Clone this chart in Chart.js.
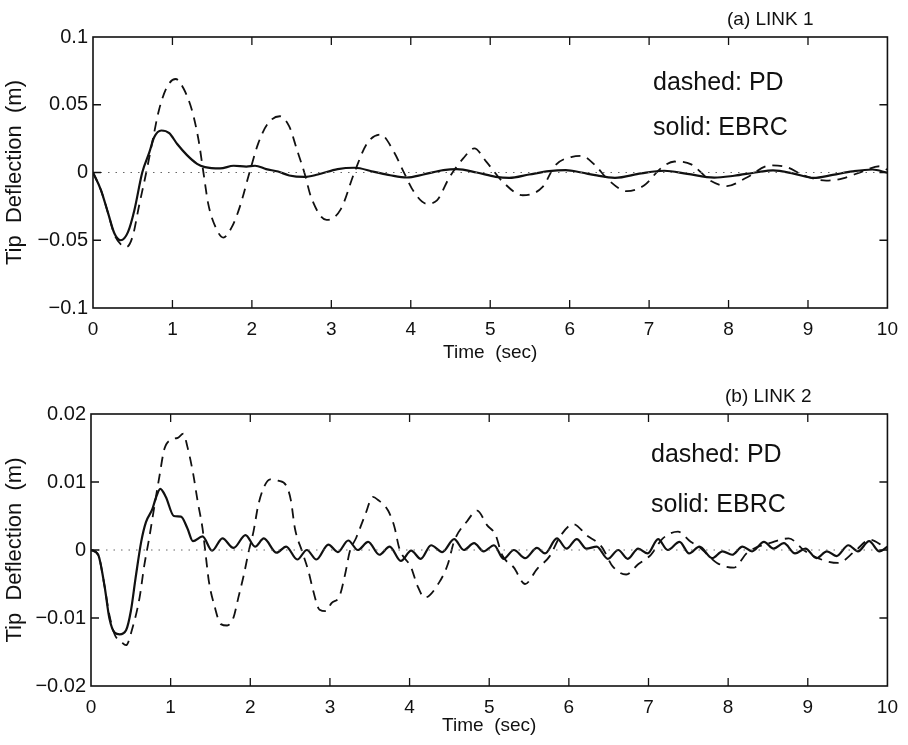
<!DOCTYPE html>
<html>
<head>
<meta charset="utf-8">
<script src="https://cdn.jsdelivr.net/npm/chart.js@4.4.1/dist/chart.umd.min.js"></script>
<style>
  html, body { margin: 0; padding: 0; background: #fff; }
  #page { position: relative; width: 908px; height: 745px; }
  .box { position: absolute; left: 0; width: 908px; }
</style>
</head>
<body>
<div id="page">
  <div class="box" style="top:0;height:372px"><canvas id="link1"></canvas></div>
  <div class="box" style="top:372px;height:373px"><canvas id="link2"></canvas></div>
</div>
<script>
// tick labels
const xTicks = [0, 1, 2, 3, 4, 5, 6, 7, 8, 9, 10];
const yTicks1 = [-0.1, -0.05, 0, 0.05, 0.1];
const yTicks2 = [-0.02, -0.01, 0, 0.01, 0.02];

// (a) LINK 1 - solid: EBRC
const link1EbrcT = [0, 0.1, 0.19, 0.27, 0.35, 0.44, 0.52, 0.62, 0.71, 0.77, 0.86, 0.96, 1.06, 1.18, 1.31, 1.41, 1.6, 1.77, 1.93, 2.04, 2.18, 2.33, 2.47, 2.66, 2.83, 3.08, 3.29, 3.54, 3.74, 3.95, 4.16, 4.41, 4.58, 4.83, 5.07, 5.24, 5.49, 5.74, 5.95, 6.15, 6.32, 6.57, 6.9, 7.19, 7.48, 7.82, 8.07, 8.36, 8.56, 8.82, 9.07, 9.31, 9.56, 9.81, 10];
const link1EbrcY = [0, -0.013, -0.03, -0.045, -0.05, -0.044, -0.028, 0, 0.015, 0.026, 0.031, 0.029, 0.021, 0.013, 0.0064, 0.004, 0.003, 0.005, 0.0044, 0.005, 0.0025, 0.0007, -0.0022, -0.0033, -0.0015, 0.0025, 0.0035, 0.0005, -0.002, -0.0037, -0.0015, 0.0017, 0.0025, 0, -0.0032, -0.004, -0.0015, 0.001, 0.0017, 0, -0.002, -0.0039, -0.0006, 0.0013, -0.001, -0.0038, -0.0024, 0.0002, 0.0015, -0.0008, -0.004, -0.0018, 0.0008, 0.0022, -0.0002];

// (a) LINK 1 - dashed: PD
const link1PdT = [0, 0.1, 0.19, 0.27, 0.35, 0.42, 0.5, 0.58, 0.67, 0.75, 0.83, 0.93, 1.04, 1.14, 1.25, 1.33, 1.39, 1.45, 1.54, 1.64, 1.75, 1.85, 1.97, 2.08, 2.2, 2.35, 2.47, 2.57, 2.66, 2.75, 2.94, 3.12, 3.29, 3.45, 3.62, 3.79, 3.91, 4.04, 4.2, 4.33, 4.49, 4.66, 4.8, 4.95, 5.16, 5.41, 5.66, 5.82, 6.03, 6.15, 6.32, 6.49, 6.72, 6.94, 7.15, 7.32, 7.53, 7.78, 7.98, 8.23, 8.52, 8.73, 8.94, 9.23, 9.44, 9.69, 9.9, 10];
const link1PdY = [0, -0.013, -0.03, -0.046, -0.053, -0.055, -0.047, -0.0245, 0, 0.0235, 0.046, 0.063, 0.069, 0.062, 0.045, 0.0235, 0, -0.023, -0.04, -0.048, -0.04, -0.025, 0, 0.0215, 0.036, 0.0415, 0.034, 0.0163, 0, -0.019, -0.035, -0.027, 0, 0.0215, 0.028, 0.015, 0.0005, -0.0143, -0.023, -0.0205, -0.0032, 0.0104, 0.0178, 0.008, -0.007, -0.0168, -0.0106, 0.0054, 0.0116, 0.0123, 0.0054, -0.0057, -0.0138, -0.0094, 0.0032, 0.0081, 0.006, -0.0063, -0.01, -0.0037, 0.0052, 0.004, -0.002, -0.006, -0.0043, 0.0009, 0.0046, 0.002];

// (b) LINK 2 - solid: EBRC
const link2EbrcT = [0, 0.09, 0.17, 0.23, 0.3, 0.36, 0.44, 0.5, 0.56, 0.63, 0.69, 0.77, 0.81, 0.87, 0.94, 1.04, 1.13, 1.21, 1.28, 1.4, 1.52, 1.65, 1.79, 1.94, 2.06, 2.17, 2.33, 2.45, 2.59, 2.71, 2.83, 2.98, 3.1, 3.23, 3.35, 3.48, 3.62, 3.75, 3.89, 4.02, 4.14, 4.27, 4.41, 4.56, 4.68, 4.81, 4.93, 5.06, 5.18, 5.31, 5.45, 5.6, 5.7, 5.85, 5.97, 6.1, 6.22, 6.35, 6.49, 6.62, 6.74, 6.87, 6.99, 7.12, 7.24, 7.39, 7.51, 7.64, 7.8, 7.93, 8.05, 8.18, 8.3, 8.45, 8.57, 8.7, 8.84, 8.97, 9.11, 9.24, 9.36, 9.51, 9.63, 9.77, 9.9, 10];
const link2EbrcY = [0, -0.0007, -0.0053, -0.01, -0.0122, -0.0124, -0.0118, -0.009, -0.0041, 0.0012, 0.0041, 0.006, 0.0075, 0.009, 0.0078, 0.005, 0.0049, 0.0032, 0.0013, 0.002, -0.0001, 0.0017, 0.0003, 0.0022, 0.0005, 0.0017, -0.0004, 0.0005, -0.0014, 0, -0.0014, 0.0008, -0.0003, 0.0014, 0, 0.0012, -0.0007, 0.0005, -0.0016, -0.0001, -0.0013, 0.0007, -0.0003, 0.0016, 0, 0.001, -0.0002, 0.0007, -0.0013, 0, -0.0012, 0.0003, -0.0005, 0.0017, 0.0002, 0.0016, 0.0002, 0.0005, -0.0013, 0, -0.0013, 0.0002, -0.0005, 0.0016, 0, 0.0012, -0.0005, 0.0005, -0.0012, -0.0002, -0.0007, 0.0005, -0.0002, 0.0012, 0.0002, 0.001, -0.0005, 0.0002, -0.0012, -0.0002, -0.0009, 0.0007, -0.0002, 0.0013, -0.0002, 0.0005];

// (b) LINK 2 - dashed: PD
const link2PdT = [0, 0.09, 0.17, 0.23, 0.3, 0.38, 0.44, 0.52, 0.61, 0.67, 0.73, 0.79, 0.86, 0.92, 1.0, 1.09, 1.16, 1.21, 1.28, 1.34, 1.4, 1.44, 1.48, 1.55, 1.63, 1.71, 1.79, 1.85, 1.92, 1.98, 2.04, 2.1, 2.17, 2.25, 2.35, 2.45, 2.51, 2.56, 2.65, 2.73, 2.79, 2.87, 2.95, 3.02, 3.12, 3.19, 3.25, 3.33, 3.44, 3.54, 3.6, 3.73, 3.81, 3.87, 4.02, 4.1, 4.19, 4.37, 4.48, 4.56, 4.72, 4.85, 4.97, 5.08, 5.16, 5.31, 5.45, 5.6, 5.76, 5.89, 6.06, 6.22, 6.41, 6.55, 6.72, 6.87, 7.03, 7.18, 7.37, 7.53, 7.63, 7.86, 8.07, 8.24, 8.57, 8.76, 8.97, 9.17, 9.38, 9.59, 9.78, 9.96, 10];
const link2PdY = [0, -0.0007, -0.0053, -0.0095, -0.0125, -0.0135, -0.014, -0.0115, -0.007, -0.0022, 0.0017, 0.006, 0.0109, 0.0148, 0.0162, 0.0165, 0.0171, 0.0152, 0.0114, 0.0071, 0.0032, -0.0007, -0.0046, -0.0082, -0.0109, -0.0111, -0.0099, -0.007, -0.0036, -0.0002, 0.0027, 0.0066, 0.0092, 0.0104, 0.0102, 0.0095, 0.0073, 0.0032, -0.0002, -0.0031, -0.006, -0.0088, -0.009, -0.0078, -0.0068, -0.0036, -0.0002, 0.0018, 0.0051, 0.0078, 0.0074, 0.0058, 0.0034, 0.0003, -0.0026, -0.0053, -0.007, -0.0048, -0.0021, 0.0013, 0.0042, 0.0058, 0.0037, 0.0022, -0.0007, -0.0026, -0.005, -0.0028, -0.0009, 0.002, 0.0038, 0.0022, 0.0005, -0.0024, -0.0036, -0.0021, -0.0007, 0.0017, 0.0027, 0.0012, 0.0005, -0.0019, -0.0026, -0.0004, 0.0012, 0.0017, -0.0002, -0.0014, -0.0019, -0.0002, 0.0015, 0.0005, 0.0003];

const FONT = "'Liberation Sans', Arial, Helvetica, sans-serif";
const INK = '#111';

function pts(ts, ys) {
    return ts.map((t, i) => ({ x: t, y: ys[i] }));
}

function fmt(v) {
    const r = Math.round(v * 1000) / 1000;
    return String(r).replace('-', '\u2212');
}

// frame box + inward ticks, plus the panel texts
const framePlugin = {
    id: 'frame',
    afterDatasetsDraw(chart, args, opts) {
        const { ctx, chartArea: a, scales } = chart;
        ctx.save();
        ctx.strokeStyle = INK;
        ctx.lineWidth = 1.6;
        ctx.strokeRect(a.left, a.top, a.right - a.left, a.bottom - a.top);
        ctx.lineWidth = 1.3;
        ctx.beginPath();
        xTicks.slice(1, -1).forEach(v => {
            const px = scales.x.getPixelForValue(v);
            ctx.moveTo(px, a.bottom); ctx.lineTo(px, a.bottom - 8);
            ctx.moveTo(px, a.top); ctx.lineTo(px, a.top + 8);
        });
        opts.yTicks.slice(1, -1).forEach(v => {
            const py = scales.y.getPixelForValue(v);
            ctx.moveTo(a.left, py); ctx.lineTo(a.left + 8, py);
            ctx.moveTo(a.right, py); ctx.lineTo(a.right - 8, py);
        });
        ctx.stroke();

        ctx.fillStyle = INK;
        ctx.textAlign = 'left';
        ctx.textBaseline = 'alphabetic';
        ctx.font = '19px ' + FONT;
        ctx.fillText(opts.title, a.left + 634, a.top - 12);
        ctx.font = '25px ' + FONT;
        ctx.fillText('dashed: PD', a.left + 560, a.top + opts.line1);
        ctx.fillText('solid: EBRC', a.left + 560, a.top + opts.line2);
        ctx.restore();
    }
};

function makeChart(id, cfg) {
    const ctx = document.getElementById(id).getContext('2d');
    return new Chart(ctx, {
        type: 'line',
        data: {
            datasets: [
                {
                    label: 'zero',
                    data: pts([0, 10], [0, 0]),
                    borderColor: '#666',
                    borderWidth: 1,
                    borderDash: [1.5, 6],
                    pointRadius: 0
                },
                {
                    label: 'PD',
                    data: cfg.pd,
                    borderColor: INK,
                    borderWidth: 1.8,
                    borderDash: [10, 7],
                    pointRadius: 0,
                    cubicInterpolationMode: 'monotone'
                },
                {
                    label: 'EBRC',
                    data: cfg.ebrc,
                    borderColor: INK,
                    borderWidth: 2.2,
                    pointRadius: 0,
                    cubicInterpolationMode: 'monotone'
                }
            ]
        },
        options: {
            responsive: true,
            maintainAspectRatio: false,
            animation: false,
            layout: { padding: { top: cfg.top, right: cfg.right, bottom: 0, left: 0 } },
            plugins: {
                legend: { display: false },
                tooltip: { enabled: false },
                frame: { title: cfg.title, yTicks: cfg.yTicks, line1: cfg.line1, line2: cfg.line2 }
            },
            scales: {
                x: {
                    type: 'linear',
                    min: 0,
                    max: 10,
                    afterBuildTicks: s => { s.ticks = xTicks.map(v => ({ value: v })); },
                    afterFit: s => { s.height = cfg.xHeight; },
                    grid: { display: false, drawTicks: false },
                    border: { display: false },
                    ticks: { color: INK, font: { family: FONT, size: 19 }, padding: 10, maxRotation: 0 },
                    title: { display: true, text: 'Time  (sec)', color: INK, font: { family: FONT, size: 19 }, padding: { bottom: 8 } }
                },
                y: {
                    type: 'linear',
                    min: cfg.yTicks[0],
                    max: cfg.yTicks[cfg.yTicks.length - 1],
                    afterBuildTicks: s => { s.ticks = cfg.yTicks.map(v => ({ value: v })); },
                    afterFit: s => { s.width = cfg.left; },
                    grid: { display: false, drawTicks: false },
                    border: { display: false },
                    ticks: { color: INK, font: { family: FONT, size: 20 }, padding: 5, callback: v => fmt(v) },
                    title: { display: true, text: 'Tip  Deflection  (m)', color: INK, font: { family: FONT, size: 22 }, padding: { top: 2 } }
                }
            }
        },
        plugins: [framePlugin]
    });
}

makeChart('link1', {
    pd: pts(link1PdT, link1PdY),
    ebrc: pts(link1EbrcT, link1EbrcY),
    yTicks: yTicks1,
    title: '(a) LINK 1',
    top: 37, right: 13, left: 93, xHeight: 64,
    line1: 53, line2: 98
});

makeChart('link2', {
    pd: pts(link2PdT, link2PdY),
    ebrc: pts(link2EbrcT, link2EbrcY),
    yTicks: yTicks2,
    title: '(b) LINK 2',
    top: 42, right: 15, left: 91, xHeight: 59,
    line1: 48, line2: 98
});
</script>
</body>
</html>
